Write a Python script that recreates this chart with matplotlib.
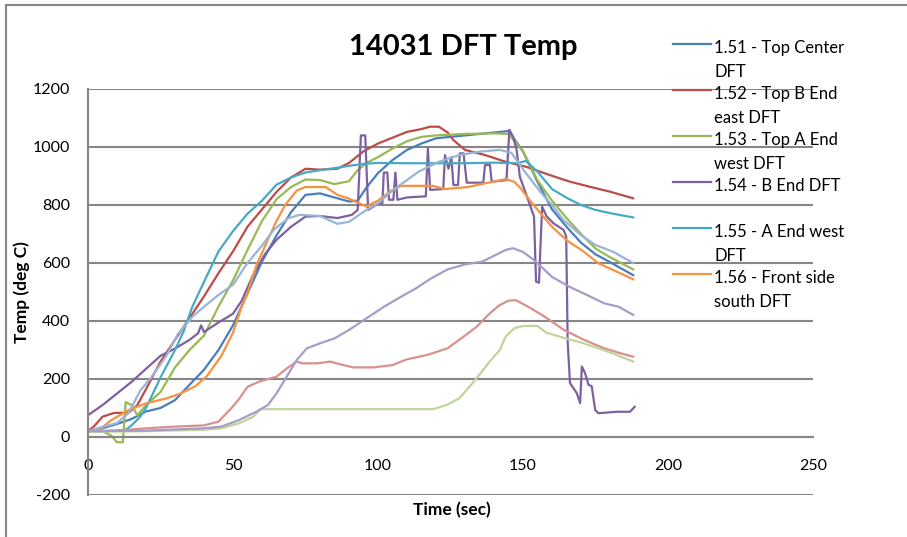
import matplotlib
matplotlib.use("Agg")
import matplotlib.pyplot as plt
from matplotlib.lines import Line2D
from matplotlib.patches import Rectangle

plt.rcParams['font.family'] = ['Lato', 'DejaVu Sans']
plt.rcParams['axes.unicode_minus'] = False

# time (sec) / temperature (deg C), one pair per thermocouple
t_151 = [0, 5, 10, 15, 20, 25, 30, 35, 40, 45, 50, 55, 60, 65, 70, 75, 80, 85, 90, 93, 96,
         100, 105, 110, 115, 120, 130, 140, 145, 150, 155, 160, 165, 170, 175, 180, 188]
temp_151 = [18, 30, 45, 62, 88, 100, 127, 180, 232, 300, 385, 495, 605, 695, 775, 835, 840, 826,
            812, 815, 860, 910, 955, 990, 1012, 1030, 1040, 1050, 1055, 985, 880, 785, 725, 670,
            630, 603, 558]

t_152 = [0, 2, 5, 9, 14, 17, 20, 25, 30, 35, 40, 45, 50, 55, 60, 65, 70, 75, 80, 86, 90, 95,
         100, 105, 110, 115, 118, 121, 124, 126, 130, 137, 144, 151, 159, 166, 173, 180, 188]
temp_152 = [20, 36, 70, 83, 84, 110, 165, 260, 335, 410, 485, 565, 640, 725, 785, 845, 895, 925,
            922, 925, 945, 985, 1012, 1032, 1052, 1062, 1070, 1070, 1050, 1024, 990, 972, 949,
            932, 904, 881, 863, 846, 823]

t_153 = [0, 5, 8, 10, 12, 13, 15, 17, 20, 25, 30, 35, 40, 45, 50, 55, 60, 65, 70, 75, 80, 85,
         90, 93, 96, 100, 105, 110, 115, 120, 130, 140, 145, 150, 155, 160, 165, 170, 175, 180, 188]
temp_153 = [20, 20, 5, -18, -18, 120, 110, 75, 110, 155, 240, 300, 350, 450, 540, 645, 745, 820,
            862, 888, 886, 872, 882, 920, 945, 965, 995, 1020, 1035, 1040, 1045, 1047, 1045, 985,
            885, 815, 755, 700, 650, 620, 578]

t_154 = [0, 5, 10, 15, 20, 25, 30, 35, 38, 39, 40, 45, 50, 53, 57, 61, 65, 70, 75, 80, 86, 91,
         93, 94.1, 95.6, 96.6, 100, 101.5, 102, 103.2, 103.8, 105.3, 106, 106.7, 110, 116.5,
         117.2, 118, 122.5, 123.1, 124.3, 125.3, 126, 127.6, 128.2, 129.5, 130.6, 136.3, 136.9,
         138.6, 139.2, 144.3, 145.3, 146.6, 147.8, 148.9, 152.4, 153.8, 154.5, 155.5, 156.6,
         158.2, 160.5, 164, 164.9, 165.4, 166.2, 168.5, 169.7, 170.3, 171.4, 172.6, 173.7,
         174.9, 176, 182.3, 186.9, 188.5]
temp_154 = [75, 110, 150, 190, 235, 280, 305, 335, 358, 385, 362, 395, 425, 470, 560, 630, 680,
            725, 760, 762, 755, 766, 783, 1040, 1040, 783, 805, 805, 912, 912, 818, 818, 912,
            818, 826, 830, 995, 852, 855, 972, 925, 965, 869, 869, 978, 978, 877, 877, 938, 938,
            880, 886, 1059, 1035, 990, 898, 800, 760, 536, 532, 794, 760, 737, 714, 691, 330,
            186, 152, 117, 243, 220, 180, 175, 93, 82, 87, 87, 104]

t_155 = [0, 5, 10, 13, 15, 18, 20, 25, 30, 33, 36, 40, 45, 50, 55, 60, 65, 70, 75, 80, 85, 90,
         95, 100, 110, 120, 130, 140, 148, 151, 155, 160, 165, 170, 175, 180, 188]
temp_155 = [20, 20, 22, 25, 40, 70, 100, 205, 300, 365, 450, 535, 640, 710, 770, 815, 870, 895,
            912, 920, 927, 935, 942, 945, 944, 944, 944, 946, 944, 952, 915, 855, 825, 800, 783,
            772, 757]

t_156 = [0, 4, 8, 14, 20, 27, 32, 37, 41, 46, 50, 53, 55, 58, 62, 65, 68, 72, 75, 82, 86, 90,
         96, 100, 105, 108, 119, 123, 131, 138, 144, 147, 149, 153, 156, 160, 165, 171, 176,
         181, 188]
temp_156 = [20, 25, 58, 93, 116, 133, 150, 175, 210, 280, 360, 450, 495, 590, 680, 745, 800,
            850, 862, 862, 835, 822, 795, 815, 852, 866, 866, 855, 862, 877, 889, 880, 860, 808,
            772, 725, 679, 639, 599, 576, 544]

t_s7 = [0, 5, 10, 14, 18, 22, 27, 31, 36, 40, 45, 50, 55, 60, 64, 69, 73, 80, 86, 90, 96, 100,
        105, 110, 114, 121, 128, 135, 142, 146, 151, 156, 160, 164, 170, 175, 181, 188]
temp_s7 = [20, 35, 48, 83, 160, 208, 280, 355, 415, 449, 490, 525, 600, 660, 714, 754, 766,
           762, 735, 742, 783, 806, 850, 886, 915, 949, 972, 984, 990, 980, 910, 845, 800, 748,
           696, 662, 639, 600]

t_s8 = [0, 10, 20, 30, 40, 45, 49.5, 52, 55, 59, 65, 68.5, 72, 74, 79, 83.5, 88, 91.5, 98.5,
        105, 110, 117, 124, 129.5, 134, 138.5, 142, 145, 147.5, 152, 157, 164, 171, 178, 183.5,
        188]
temp_s8 = [20, 22, 30, 36, 40, 53, 100, 130, 173, 191, 208, 236, 260, 254, 254, 260, 248, 240,
           240, 248, 268, 283, 306, 346, 380, 426, 455, 470, 472, 448, 418, 370, 335, 306, 289,
           277]

t_s9 = [0, 20, 40, 46, 52, 57, 59.5, 119, 123.5, 128, 131.5, 135, 138.5, 142, 144, 147, 150,
        155, 158, 164, 170, 176, 181, 188]
temp_s9 = [18, 20, 25, 30, 47, 70, 96, 96, 110, 133, 173, 215, 260, 300, 346, 375, 383, 383,
           360, 342, 326, 306, 288, 260]

t_s10 = [0, 20, 40, 46, 52, 58, 62, 65, 68.5, 72, 75.5, 80, 85, 90, 96, 102, 108, 113, 118,
         124, 130, 136, 140, 144, 146.5, 150, 153, 156, 160, 166, 172, 178, 183, 188]
temp_s10 = [20, 22, 30, 36, 58, 87, 110, 150, 208, 266, 306, 323, 340, 369, 409, 449, 484, 512,
            545, 578, 595, 605, 625, 645, 651, 638, 616, 590, 552, 518, 490, 461, 449, 421]

legend_labels = ['1.51 - Top Center\nDFT', '1.52 - Top B End\neast DFT',
                 '1.53 - Top A End\nwest DFT', '1.54 - B End DFT',
                 '1.55 - A End west\nDFT', '1.56 - Front side\nsouth DFT']

colors = ['#4A7EBB', '#BE4B48', '#98B954', '#7D60A0', '#46AAC5', '#F69240',
          '#98B4D8', '#D8918F', '#C0D59B', '#A99BC8']

W, H = 907, 537
GRID = '#868686'


def fx(px):
    return px / W


def fy(py):
    return 1 - py / H


def main():
    series = [(t_151, temp_151), (t_152, temp_152), (t_153, temp_153), (t_154, temp_154),
              (t_155, temp_155), (t_156, temp_156), (t_s7, temp_s7), (t_s8, temp_s8),
              (t_s9, temp_s9), (t_s10, temp_s10)]

    fig = plt.figure(figsize=(W / 100, H / 100), dpi=100)
    # chart area frame (only left/top edges are inside the picture)
    fig.add_artist(Rectangle((fx(6), -0.2), 1.5, fy(5) + 0.2, transform=fig.transFigure,
                             fill=False, edgecolor=GRID, lw=1.5))

    ax = fig.add_axes([fx(88), fy(495), (813 - 88) / W, (495 - 89) / H])
    for (t, v), c in zip(series, colors):
        ax.plot(t, v, color=c, lw=1.6)

    ax.set_xlim(0, 250)
    ax.set_ylim(-200, 1200)
    ax.set_xticks(range(0, 251, 50))
    ax.set_yticks(range(-200, 1201, 200))
    ax.set_axisbelow(True)
    ax.grid(axis='y', color=GRID, lw=1.5)
    ax.spines['top'].set_visible(False)
    ax.spines['right'].set_visible(False)
    ax.spines['left'].set_color(GRID)
    ax.spines['left'].set_linewidth(1.5)
    ax.spines['bottom'].set_position(('data', 0))
    ax.spines['bottom'].set_color(GRID)
    ax.spines['bottom'].set_linewidth(1.5)
    ax.tick_params(axis='both', length=0, labelsize=11.5, colors='black')
    ax.tick_params(axis='x', pad=16)
    ax.tick_params(axis='y', pad=13)

    fig.text(fx(463), fy(47), '14031 DFT Temp', ha='center', va='center',
             fontsize=21, fontweight='bold')
    fig.text(fx(22), fy(292), 'Temp (deg C)', ha='center', va='center', rotation=90,
             fontsize=12.5, fontweight='bold')
    fig.text(fx(452), fy(510), 'Time (sec)', ha='center', va='center',
             fontsize=12.5, fontweight='bold')

    # legend, drawn like the Excel one (handle next to the first text line)
    for i, lab in enumerate(legend_labels):
        y = 44 + 46 * i
        fig.add_artist(Line2D([fx(673), fx(711)], [fy(y), fy(y)], color=colors[i], lw=1.6,
                              transform=fig.transFigure))
        fig.text(fx(714), fy(y - 4), lab, ha='left', va='top', fontsize=12,
                 linespacing=1.6)

    fig.savefig('out.png', dpi=100)


main()
